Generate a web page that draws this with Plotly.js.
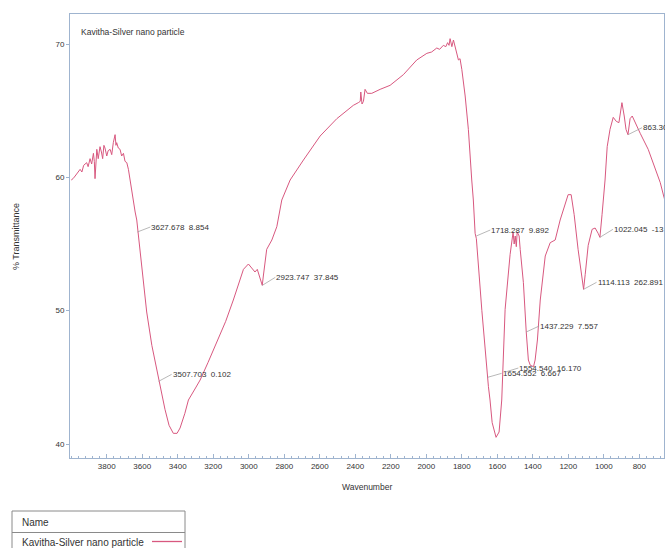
<!DOCTYPE html>
<html>
<head>
<meta charset="utf-8">
<script src="https://cdn.plot.ly/plotly-3.0.1.min.js"></script>
<style>
  html, body { margin: 0; padding: 0; background: #ffffff; overflow: hidden; }
  #chart { width: 665px; height: 548px; }
</style>
</head>
<body>
<div id="chart"></div>
<script>
// ---- Data ----
const seriesName = 'Kavitha-Silver nano particle';

const wavenumber = [
  4000, 3990, 3978, 3965, 3950, 3940, 3930, 3913, 3905, 3894, 3885, 3875, 3870, 3866, 3861, 3856,
  3848, 3838, 3830, 3823, 3816, 3810, 3800, 3792, 3781, 3772, 3763, 3753, 3748, 3744, 3735, 3725,
  3716, 3706, 3697, 3687, 3678, 3669, 3660, 3650, 3640, 3631, 3603, 3575, 3546, 3518, 3494, 3472,
  3449, 3425, 3404, 3387, 3360, 3340, 3300, 3274, 3230, 3180, 3130, 3087, 3055, 3030, 3002, 2983,
  2965, 2952, 2940, 2924, 2918, 2908, 2899, 2870, 2842, 2814, 2767, 2692, 2598, 2504, 2411, 2383,
  2372, 2369, 2362, 2354, 2345, 2332, 2307, 2260, 2204, 2129, 2054, 1997, 1970, 1941, 1925, 1904,
  1890, 1880, 1872, 1866, 1856, 1847, 1840, 1832, 1819, 1810, 1800, 1781, 1763, 1744, 1735, 1725,
  1718, 1687, 1659, 1650, 1641, 1629, 1607, 1590, 1575, 1556, 1539, 1528, 1511, 1505, 1499, 1493,
  1488, 1477, 1471, 1453, 1437, 1430, 1425, 1414, 1396, 1387, 1374, 1358, 1343, 1330, 1302, 1274,
  1246, 1218, 1201, 1184, 1167, 1145, 1128, 1114, 1105, 1088, 1066, 1049, 1032, 1022, 1010, 993,
  981, 965, 947, 930, 915, 898, 885, 875, 864, 852, 840, 823, 795, 750, 710, 693, 682, 661, 650
];

const transmittance = [
  59.8, 59.9, 60.1, 60.3, 60.6, 60.4, 60.9, 61.1, 60.8, 61.4, 61.0, 61.8, 61.2, 59.9, 61.5, 62.1,
  61.4, 62.3, 61.9, 61.4, 62.4, 62.2, 61.6, 62.0, 62.1, 61.7, 62.6, 63.2, 62.4, 62.6, 62.2, 62.1,
  61.6, 61.8, 61.2, 61.1, 60.6, 59.8, 59.2, 58.3, 57.4, 56.8, 53.1, 49.9, 47.4, 45.6, 44.1, 42.6,
  41.4, 40.8, 40.8, 41.2, 42.3, 43.3, 44.2, 44.8, 46.1, 47.6, 49.2, 50.8, 52.1, 53.1, 53.5, 53.2,
  52.9, 53.1, 52.5, 51.9, 52.6, 53.7, 54.6, 55.3, 56.3, 58.3, 59.8, 61.3, 63.1, 64.4, 65.4, 65.6,
  65.7, 66.4, 65.5, 65.7, 66.6, 66.3, 66.3, 66.6, 66.9, 67.7, 68.8, 69.3, 69.4, 69.7, 69.6, 69.9,
  69.8, 70.1, 69.9, 70.4, 69.8, 70.3, 69.9, 69.6, 68.8, 68.9, 68.1, 66.1, 63.6, 59.8, 58.3, 55.8,
  55.4, 50.0, 45.3, 44.3, 43.3, 41.6, 40.5, 40.9, 43.3, 50.1, 52.6, 54.2, 55.9, 55.0, 55.6, 54.8,
  55.9, 55.6, 54.6, 52.1, 48.4, 47.3, 46.3, 45.9, 45.8, 46.3, 47.8, 50.8, 52.8, 54.1, 55.1, 55.3,
  56.8, 57.9, 58.7, 58.7, 57.2, 54.6, 52.7, 51.6, 52.7, 54.9, 56.1, 56.2, 55.8, 55.5, 57.2, 59.8,
  62.3, 63.6, 64.5, 64.2, 64.1, 65.6, 64.6, 63.6, 63.2, 64.4, 64.6, 64.1, 63.3, 62.1, 60.6, 60.1, 59.6, 58.5, 58.0
];

// Peak-pick labels (wavenumber, transmittance at leader start, label text)
const peakWn = [3627.678, 3507.703, 2923.747, 1718.287, 1654.552, 1554.540, 1437.229, 1114.113, 1022.045, 863.30];
const peakT  = [55.9, 44.7, 51.9, 55.6, 45.0, 45.4, 48.4, 51.6, 55.5, 63.2];
const peakText = [
  '3627.678  8.854', '3507.703  0.102', '2923.747  37.845', '1718.287  9.892',
  '1654.552  6.667', '1554.540  16.170', '1437.229  7.557', '1114.113  262.891',
  '1022.045  -13', '863.30'
];

const xTickVals = [3800, 3600, 3400, 3200, 3000, 2800, 2600, 2400, 2200, 2000, 1800, 1600, 1400, 1200, 1000, 800];
const yTickVals = [40, 50, 60, 70];

// ---- Styling / layout (not data) ----
const lineColor = '#d8587f';
const axisColor = '#9fb4cf';
const textColor = '#333333';
const fontFam = '"Liberation Sans", Arial, sans-serif';
const labelOffsets = [[13,-5],[13,-7],[13,-8],[14,-6],[14,-4],[13,-4],[13,-6],[13,-7],[13,-8],[14,-7]];

const nb = s => s.replace(/ /g, '\u00a0');

const peakAnnotations = peakWn.map((wn, i) => ({
  x: wn, y: peakT[i], xref: 'x', yref: 'y',
  text: nb(peakText[i]),
  showarrow: true, arrowhead: 0, arrowwidth: 0.7, arrowcolor: '#9a9a9a',
  ax: labelOffsets[i][0], ay: labelOffsets[i][1],
  xanchor: 'left', yanchor: 'middle', borderpad: 0, standoff: 0,
  font: { family: fontFam, size: 8, color: textColor }
}));

const px2x = px => (px - 70) / 594;
const py2y = py => (458 - py) / 444;

const otherAnnotations = [
  { text: seriesName, xref: 'paper', yref: 'paper', x: px2x(79), y: py2y(32.5),
    xanchor: 'left', yanchor: 'middle', showarrow: false,
    font: { family: fontFam, size: 8.5, color: textColor } },
  { text: '% Transmittance', xref: 'paper', yref: 'paper', x: px2x(16), y: py2y(237),
    textangle: -90, xanchor: 'center', yanchor: 'middle', showarrow: false,
    font: { family: fontFam, size: 9, color: textColor } },
  { text: 'Wavenumber', xref: 'paper', yref: 'paper', x: px2x(367), y: py2y(487),
    xanchor: 'center', yanchor: 'middle', showarrow: false,
    font: { family: fontFam, size: 8.5, color: textColor } },
  { text: 'Name', xref: 'paper', yref: 'paper', x: px2x(20), y: py2y(522),
    xanchor: 'left', yanchor: 'middle', showarrow: false,
    font: { family: fontFam, size: 10, color: textColor } },
  { text: seriesName, xref: 'paper', yref: 'paper', x: px2x(20), y: py2y(542.5),
    xanchor: 'left', yanchor: 'middle', showarrow: false,
    font: { family: fontFam, size: 10, color: textColor } }
];

const shapes = [
  { type: 'rect', xref: 'paper', yref: 'paper', x0: px2x(12), x1: px2x(185), y0: py2y(560), y1: py2y(511),
    line: { color: '#8a8a8a', width: 1 }, fillcolor: 'rgba(0,0,0,0)' },
  { type: 'line', xref: 'paper', yref: 'paper', x0: px2x(12), x1: px2x(185), y0: py2y(532.5), y1: py2y(532.5),
    line: { color: '#8a8a8a', width: 1 } },
  { type: 'line', xref: 'paper', yref: 'paper', x0: px2x(152), x1: px2x(182), y0: py2y(541.5), y1: py2y(541.5),
    line: { color: lineColor, width: 1.3 } }
];

const trace = {
  x: wavenumber, y: transmittance, type: 'scatter', mode: 'lines', name: seriesName,
  line: { color: lineColor, width: 1 }, hoverinfo: 'skip'
};

const layout = {
  width: 665, height: 548,
  margin: { l: 70, r: 1, t: 14, b: 90, pad: 0 },
  paper_bgcolor: '#ffffff', plot_bgcolor: '#ffffff',
  showlegend: false,
  font: { family: fontFam, size: 8, color: textColor },
  xaxis: {
    range: [4007, 661], autorange: false,
    showgrid: false, zeroline: false,
    showline: true, linecolor: axisColor, linewidth: 1, mirror: true,
    tickmode: 'array', tickvals: xTickVals,
    ticks: 'inside', ticklen: 4, tickcolor: axisColor, tickwidth: 1,
    minor: { dtick: 40, tick0: 0, ticks: 'inside', ticklen: 2, tickcolor: axisColor, showgrid: false },
    tickfont: { family: fontFam, size: 8, color: textColor }
  },
  yaxis: {
    range: [38.95, 72.25], autorange: false,
    showgrid: false, zeroline: false,
    showline: true, linecolor: axisColor, linewidth: 1, mirror: true,
    tickmode: 'array', tickvals: yTickVals,
    ticks: 'outside', ticklen: 3, tickcolor: axisColor, tickwidth: 1,
    tickfont: { family: fontFam, size: 8, color: textColor }
  },
  annotations: peakAnnotations.concat(otherAnnotations),
  shapes: shapes
};

Plotly.newPlot('chart', [trace], layout, { displayModeBar: false, staticPlot: true });
</script>
</body>
</html>
